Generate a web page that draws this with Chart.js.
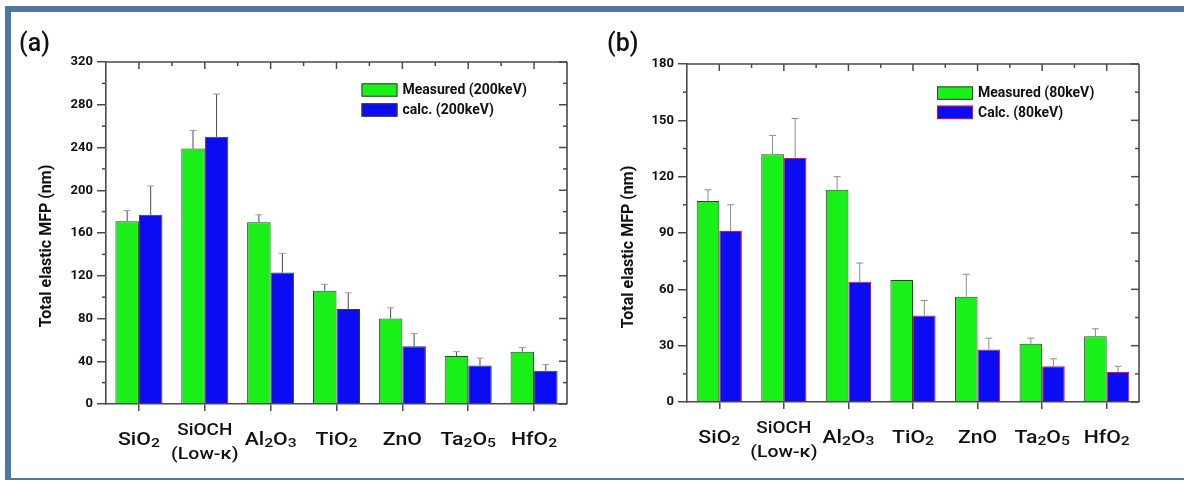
<!DOCTYPE html>
<html>
<head>
<meta charset="utf-8">
<title>Total elastic MFP</title>
<script src="https://cdn.jsdelivr.net/npm/chart.js@4"></script>
<style>
  html, body { margin: 0; padding: 0; background: #fff; }
  #wrap { position: relative; width: 1184px; height: 481px; overflow: hidden; background: #fff; }
  .band { position: absolute; background: #4e78a2; }
  canvas { position: absolute; top: 0; }
</style>
</head>
<body>
<div id="wrap">
  <div class="band" style="left:5px;top:6px;width:1179px;height:6px"></div>
  <div class="band" style="left:5px;top:6px;width:6px;height:474px"></div>
  <div class="band" style="left:5px;top:478px;width:1179px;height:2px"></div>
  <canvas id="mfp200" width="592" height="481" style="left:0"></canvas>
  <canvas id="mfp80" width="592" height="481" style="left:592px"></canvas>
</div>
<script>
// materials on the x axis (digits are drawn as subscripts)
const materials = ['SiO2', ['SiOCH', '(Low-κ)'], 'Al2O3', 'TiO2', 'ZnO', 'Ta2O5', 'HfO2'];

// 200 keV: MFP in nm, error = upward bar length
const measured200    = [171, 239, 170, 106, 80, 45, 49];
const measured200Err = [10, 17, 7, 6, 10, 4, 4];
const calc200        = [177, 250, 123, 89, 54, 36, 31];
const calc200Err     = [27, 40, 18, 15, 12, 7, 6];
const yTicks200      = [0, 40, 80, 120, 160, 200, 240, 280, 320];

// 80 keV
const measured80    = [107, 132, 113, 65, 56, 31, 35];
const measured80Err = [6, 10, 7, 0, 12, 3, 4];
const calc80        = [91, 130, 64, 46, 28, 19, 16];
const calc80Err     = [14, 21, 10, 8, 6, 4, 3];
const yTicks80      = [0, 30, 60, 90, 120, 150, 180];

const GREEN = '#18f018';
const BLUE = '#0c0cf4';
const AXIS = '#4a4a4a';
const TXT = '#111';

function line(ctx, x1, y1, x2, y2) {
  ctx.beginPath(); ctx.moveTo(x1, y1); ctx.lineTo(x2, y2); ctx.stroke();
}

// formula with subscript digits, centred on x, stretched a little horizontally
function formula(ctx, str, x, y, size) {
  const parts = str.split(/(\d+)/).filter(Boolean);
  const big = `500 ${size}px Roboto`, small = `500 ${size * 0.74}px Roboto`;
  let w = 0;
  parts.forEach(p => { ctx.font = /\d/.test(p) ? small : big; w += ctx.measureText(p).width; });
  ctx.save();
  ctx.translate(x, y);
  ctx.scale(1.18, 1);
  ctx.textAlign = 'left';
  ctx.textBaseline = 'alphabetic';
  let cx = -w / 2;
  parts.forEach(p => {
    const sub = /\d/.test(p);
    ctx.font = sub ? small : big;
    ctx.fillText(p, cx, sub ? 2 : 0);
    cx += ctx.measureText(p).width;
  });
  ctx.restore();
}

const panelDecor = {
  id: 'panelDecor',
  afterDatasetsDraw(chart) {
    // upward error bars
    const ctx = chart.ctx, ys = chart.scales.y, cfg = chart.options.plugins.panelDecor;
    ctx.save();
    chart.data.datasets.forEach((ds, i) => {
      const meta = chart.getDatasetMeta(i);
      ds.err.forEach((e, j) => {
        if (!e) return;
        const bar = meta.data[j];
        const yTop = ys.getPixelForValue(ds.data[j] + e);
        ctx.lineWidth = 1;
        ctx.strokeStyle = cfg.errColor;
        line(ctx, bar.x, bar.y, bar.x, yTop);
        ctx.strokeStyle = cfg.capColor;
        line(ctx, bar.x - 3.5, yTop, bar.x + 3.5, yTop);
      });
    });
    ctx.restore();
  },
  afterDraw(chart) {
    const ctx = chart.ctx, cfg = chart.options.plugins.panelDecor;
    const { left, right, top, bottom } = chart.chartArea;
    const ys = chart.scales.y, xs = chart.scales.x;
    ctx.save();
    ctx.strokeStyle = AXIS;
    ctx.lineWidth = 1.6;
    line(ctx, left, top, right, top);
    line(ctx, right, top, right, bottom);

    // mirrored ticks on the right, minor ticks both sides
    ctx.lineWidth = 1.5;
    const step = cfg.step;
    ys.ticks.forEach((t, k) => {
      const py = ys.getPixelForValue(t.value);
      line(ctx, right, py, right - 8, py);
      if (k < ys.ticks.length - 1) {
        const my = ys.getPixelForValue(t.value + step / 2);
        line(ctx, left, my, left - 4, my);
        line(ctx, right, my, right - 4, my);
      }
    });
    // top axis ticks
    const half = (right - left) / materials.length / 2;
    materials.forEach((_, j) => {
      const px = xs.getPixelForValue(j);
      line(ctx, px, top, px, top + 7);
      if (j < materials.length - 1) line(ctx, px + half, top, px + half, top + 4);
    });

    // category labels
    ctx.fillStyle = TXT;
    materials.forEach((m, j) => {
      const px = xs.getPixelForValue(j);
      if (Array.isArray(m)) {
        formula(ctx, m[0], px, bottom + 31, 16);
        formula(ctx, m[1], px, bottom + 55, 16.5);
      } else {
        formula(ctx, m, px, bottom + 41, 18);
      }
    });

    // legend
    const bx = right - cfg.legend.dx, by = top + cfg.legend.dy;
    chart.data.datasets.forEach((ds, i) => {
      const y0 = by + i * cfg.legend.gap;
      ctx.fillStyle = ds.backgroundColor;
      ctx.fillRect(bx, y0, 36, 13.4);
      ctx.strokeStyle = ds.borderColor;
      ctx.lineWidth = 1;
      ctx.strokeRect(bx + 0.5, y0 + 0.5, 35, 12.4);
      ctx.fillStyle = TXT;
      ctx.font = 'bold 14px Roboto';
      ctx.textAlign = 'left';
      ctx.textBaseline = 'middle';
      ctx.fillText(ds.label, bx + 41, y0 + 7.5);
    });

    // y title
    ctx.save();
    ctx.translate(cfg.titleX, cfg.titleY);
    ctx.rotate(-Math.PI / 2);
    ctx.font = 'bold 16px Roboto';
    ctx.textAlign = 'center';
    ctx.textBaseline = 'middle';
    ctx.fillText('Total elastic MFP (nm)', 0, 0);
    ctx.restore();

    // panel letter
    ctx.font = '500 25px Roboto';
    ctx.textAlign = 'left';
    ctx.textBaseline = 'middle';
    ctx.fillText(cfg.letter, cfg.letterX, 45);
    ctx.restore();
  }
};

function buildPanel(id, p) {
  return new Chart(document.getElementById(id), {
    type: 'bar',
    data: {
      labels: materials,
      datasets: [
        { label: p.names[0], data: p.measured, err: p.measuredErr, backgroundColor: GREEN,
          borderColor: '#3a3a3a', borderWidth: 1, categoryPercentage: p.catPct, barPercentage: 1 },
        { label: p.names[1], data: p.calc, err: p.calcErr, backgroundColor: BLUE,
          borderColor: p.calcEdge, borderWidth: 1, categoryPercentage: p.catPct, barPercentage: 1 }
      ]
    },
    options: {
      responsive: false,
      animation: false,
      layout: { padding: p.pad },
      plugins: {
        legend: { display: false },
        tooltip: { enabled: false },
        panelDecor: p.decor
      },
      scales: {
        x: {
          grid: { offset: false, drawOnChartArea: false, tickLength: 7, color: AXIS, lineWidth: 1.5 },
          border: { color: AXIS, width: 1.6 },
          ticks: { display: false },
          afterFit: s => { s.height = 40; }
        },
        y: {
          min: p.yTicks[0],
          max: p.yTicks[p.yTicks.length - 1],
          afterBuildTicks: s => { s.ticks = p.yTicks.map(v => ({ value: v })); },
          ticks: { color: TXT, padding: 4, font: { family: 'Roboto', weight: 'bold', size: 13 } },
          grid: { drawOnChartArea: false, tickLength: 9, color: AXIS, lineWidth: 1.5 },
          border: { color: AXIS, width: 1.6 },
          afterFit: s => { s.width = 70; }
        }
      }
    },
    plugins: [panelDecor]
  });
}

buildPanel('mfp200', {
  names: ['Measured (200keV)', 'calc. (200keV)'],
  measured: measured200, measuredErr: measured200Err,
  calc: calc200, calcErr: calc200Err,
  yTicks: yTicks200,
  calcEdge: '#3a3a3a',
  catPct: 0.714,
  pad: { left: 36, right: 25, top: 62, bottom: 37 },
  decor: { step: 40, errColor: '#4a4a4a', capColor: '#a898a8',
           legend: { dx: 205.5, dy: 21.3, gap: 20 },
           titleX: 47, titleY: 246, letter: '(a)', letterX: 19 }
});

buildPanel('mfp80', {
  names: ['Measured (80keV)', 'Calc. (80keV)'],
  measured: measured80, measuredErr: measured80Err,
  calc: calc80, calcErr: calc80Err,
  yTicks: yTicks80,
  calcEdge: '#e0102a',
  catPct: 0.70,
  pad: { left: 25, right: 45, top: 64, bottom: 39 },
  decor: { step: 30, errColor: '#8a8a8a', capColor: '#8a8a8a',
           legend: { dx: 202, dy: 22.4, gap: 19.3 },
           titleX: 37, titleY: 247, letter: '(b)', letterX: 15 }
});
</script>
</body>
</html>
